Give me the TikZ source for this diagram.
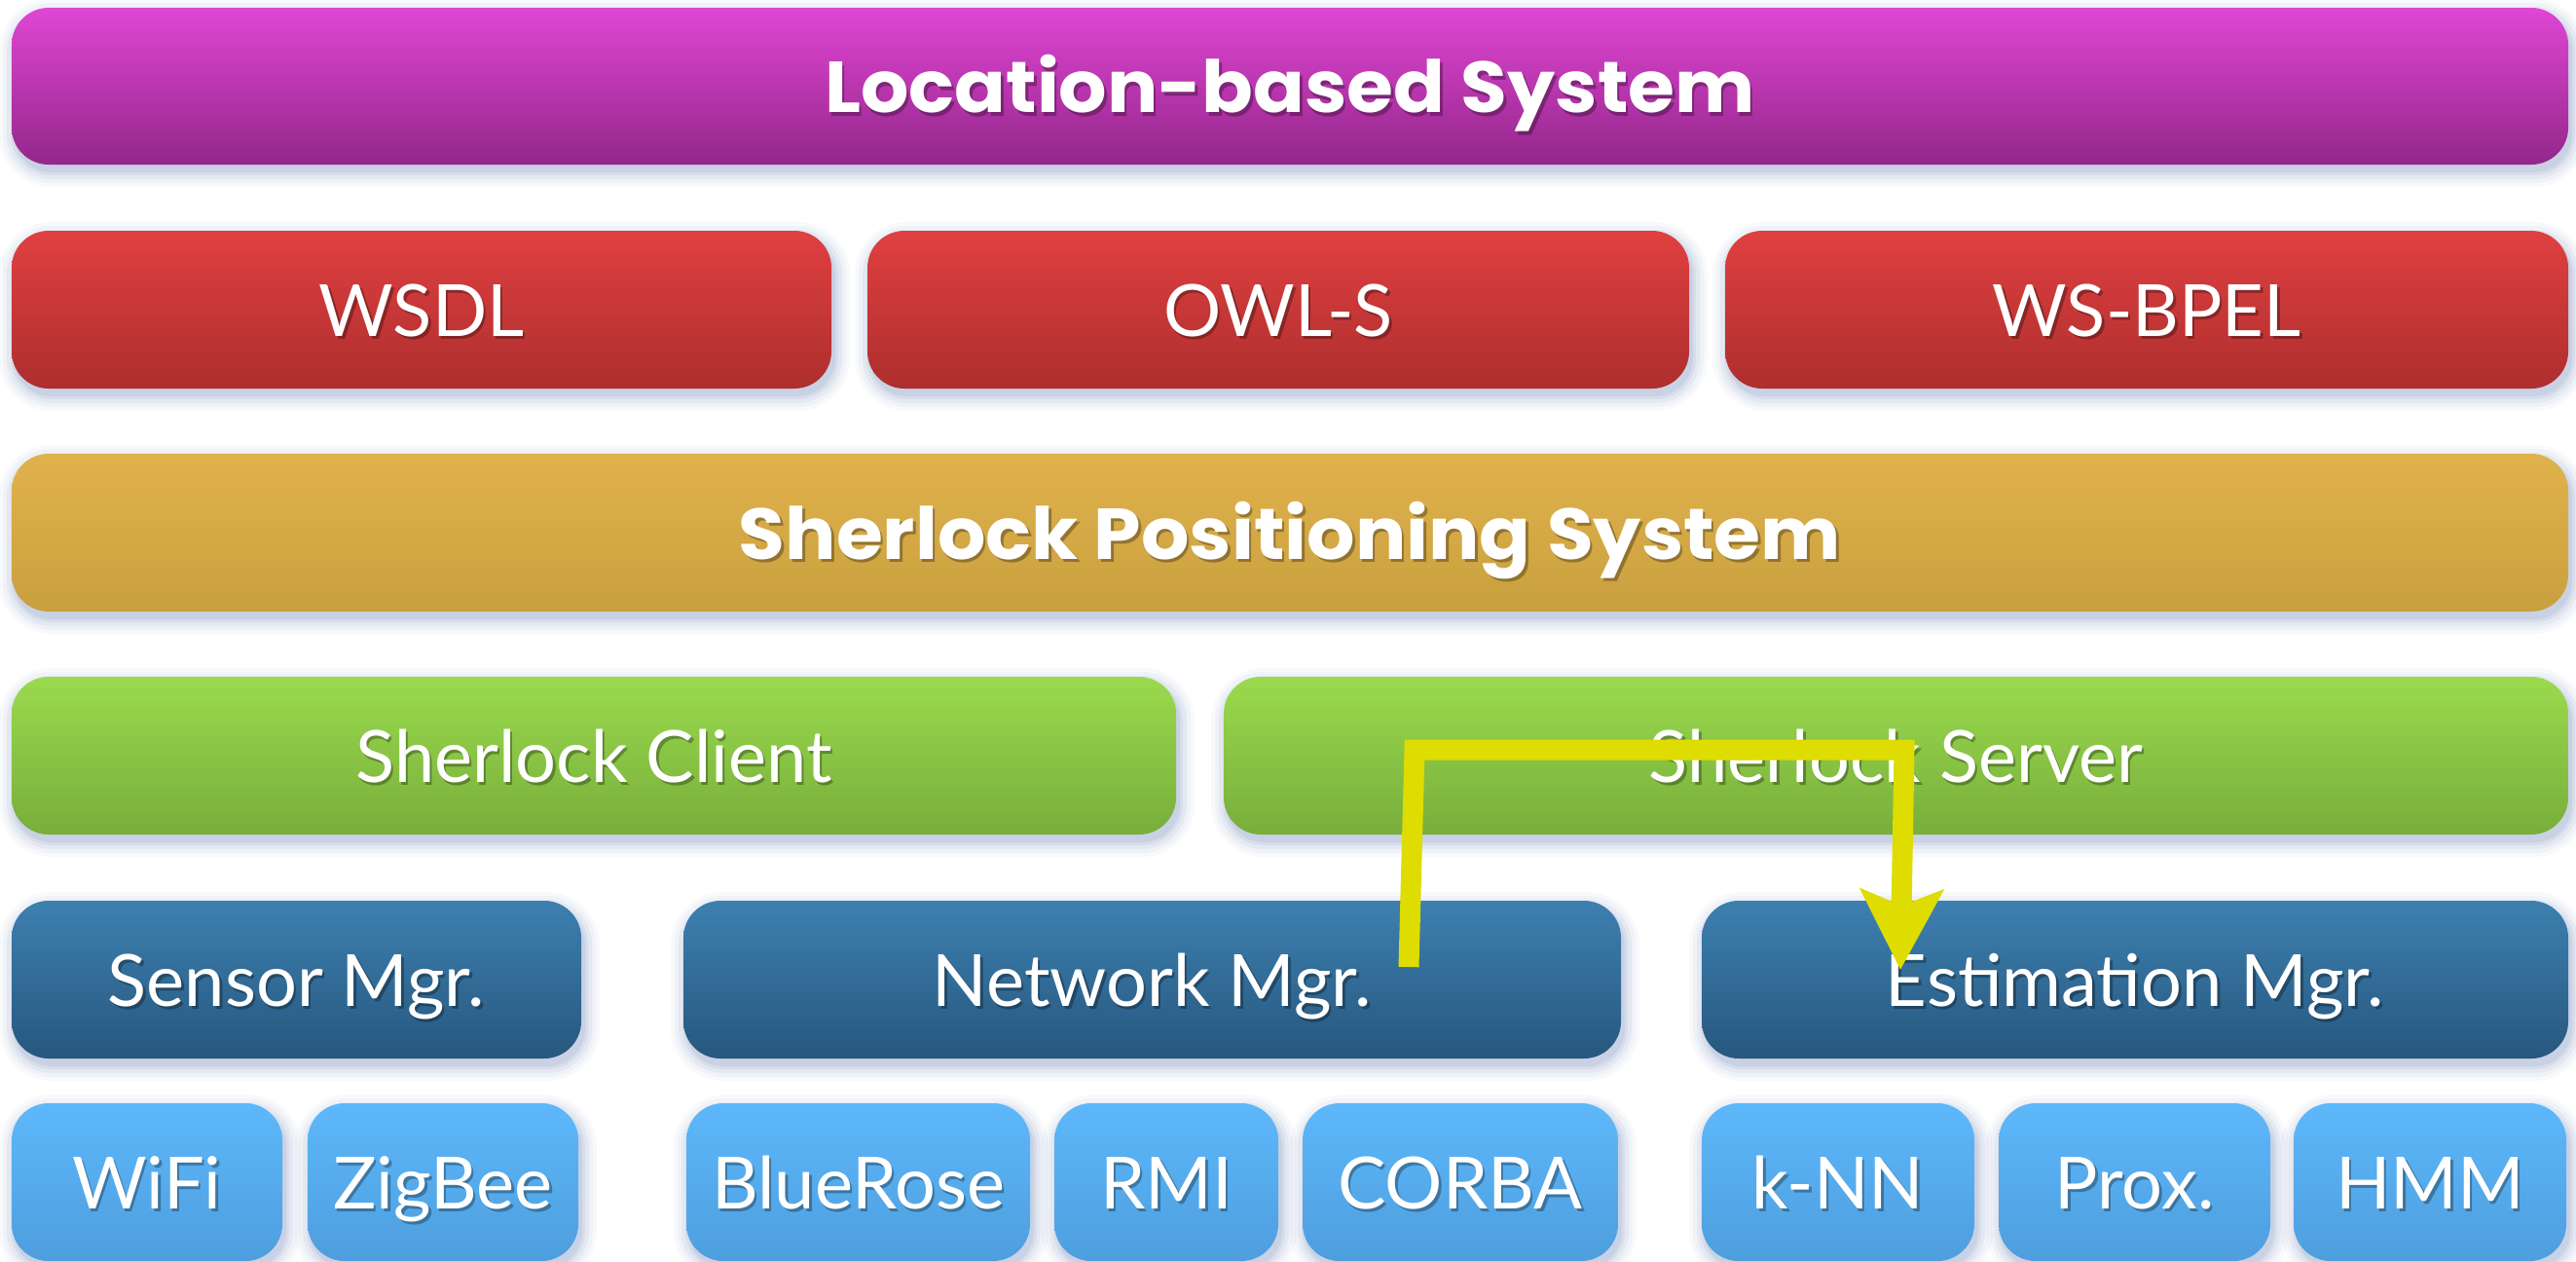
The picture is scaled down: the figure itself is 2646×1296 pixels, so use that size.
\documentclass[tikz,border=0pt]{standalone}
\usepackage{fontspec}
\setmainfont{Lato}
\newfontfamily\titlefont{Poppins}[FakeStretch=1.05]
\usetikzlibrary{arrows.meta,calc}
\definecolor{purT}{HTML}{E046D4}
\definecolor{purB}{HTML}{93278A}
\definecolor{redT}{HTML}{E04040}
\definecolor{redB}{HTML}{AE2E2E}
\definecolor{golT}{HTML}{E0B24C}
\definecolor{golB}{HTML}{C9A03F}
\definecolor{grnT}{HTML}{9ADA4E}
\definecolor{grnB}{HTML}{78AE3B}
\definecolor{dblT}{HTML}{3D80B0}
\definecolor{dblB}{HTML}{27577E}
\definecolor{lblT}{HTML}{5DB8FB}
\definecolor{lblB}{HTML}{4E9EDD}
\definecolor{shadowc}{HTML}{5A72B0}
\definecolor{yel}{HTML}{DEDC00}
\tikzset{
  x=0.5pt, y=-0.5pt,
  box/.style={rounded corners=19pt, inner sep=0pt, draw=none},
  txt/.style={text=white, inner sep=0pt, text height=27pt, text depth=0pt,
    font=\fontsize{37}{40}\selectfont},
  tshadow/.style={txt, text=black, opacity=0.3},
}
\newcommand\lbox[8]{%
  \foreach \e/\o in {16/0.04,12/0.05,8/0.07,4/0.09,1/0.11}{%
    \fill[shadowc, opacity=\o, rounded corners={(19+\e*0.5)*1pt}]
      ({#2-\e+3},{#3-\e+7}) rectangle ({#4+\e+3},{#5+\e+7});
  }
  \node[box, top color=#6, bottom color=#7,
    minimum width={(#4-#2)*0.5pt}, minimum height={(#5-#3)*0.5pt}]
    (#1) at ({(#2+#4)/2},{(#3+#5)/2}) {};
  \node[tshadow] at ($(#1.center)+(2.5,3.5)$) {#8};
  \node[txt] at (#1.center) {#8};
}
\begin{document}
\begin{tikzpicture}
\fill[white] (0,0) rectangle (2646,1296);
\useasboundingbox (0,0) rectangle (2646,1296);
% row 1
\lbox{lbs}{12}{8}{2638}{169}{purT}{purB}{\titlefont\bfseries Location-based System}
% row 2
\lbox{wsdl}{12}{237}{854}{399}{redT}{redB}{WSDL}
\lbox{owls}{891}{237}{1735}{399}{redT}{redB}{OWL-S}
\lbox{bpel}{1772}{237}{2638}{399}{redT}{redB}{WS-BPEL}
% row 3
\lbox{sps}{12}{466}{2638}{628}{golT}{golB}{\titlefont\bfseries Sherlock Positioning System}
% row 4
\lbox{client}{12}{695}{1208}{857}{grnT}{grnB}{Sherlock Client}
\lbox{server}{1257}{695}{2638}{857}{grnT}{grnB}{Sherlock Server}
% row 5
\lbox{sensor}{12}{925}{597}{1087}{dblT}{dblB}{Sensor Mgr.}
\lbox{network}{702}{925}{1665}{1087}{dblT}{dblB}{Network Mgr.}
\lbox{estim}{1748}{925}{2638}{1087}{dblT}{dblB}{Estimation Mgr.}
% row 6
\lbox{wifi}{12}{1133}{290}{1295}{lblT}{lblB}{WiFi}
\lbox{zigbee}{316}{1133}{594}{1295}{lblT}{lblB}{ZigBee}
\lbox{bluerose}{705}{1133}{1058}{1295}{lblT}{lblB}{BlueRose}
\lbox{rmi}{1083}{1133}{1313}{1295}{lblT}{lblB}{RMI}
\lbox{corba}{1338}{1133}{1662}{1295}{lblT}{lblB}{CORBA}
\lbox{knn}{1748}{1133}{2028}{1295}{lblT}{lblB}{k-NN}
\lbox{prox}{2053}{1133}{2332}{1295}{lblT}{lblB}{Prox.}
\lbox{hmm}{2356}{1133}{2636}{1295}{lblT}{lblB}{HMM}
% yellow arrow
\coordinate (a0) at (1447,993);
\coordinate (a1) at (1453,770);
\coordinate (a2) at (1956,770);
\coordinate (a3) at (1952,996);
\draw[yel, line width=10.5pt, line join=miter,
  -{Stealth[length=41pt,width=42pt,inset=8pt]}] (a0) -- (a1) -- (a2) -- (a3);
\end{tikzpicture}
\end{document}
